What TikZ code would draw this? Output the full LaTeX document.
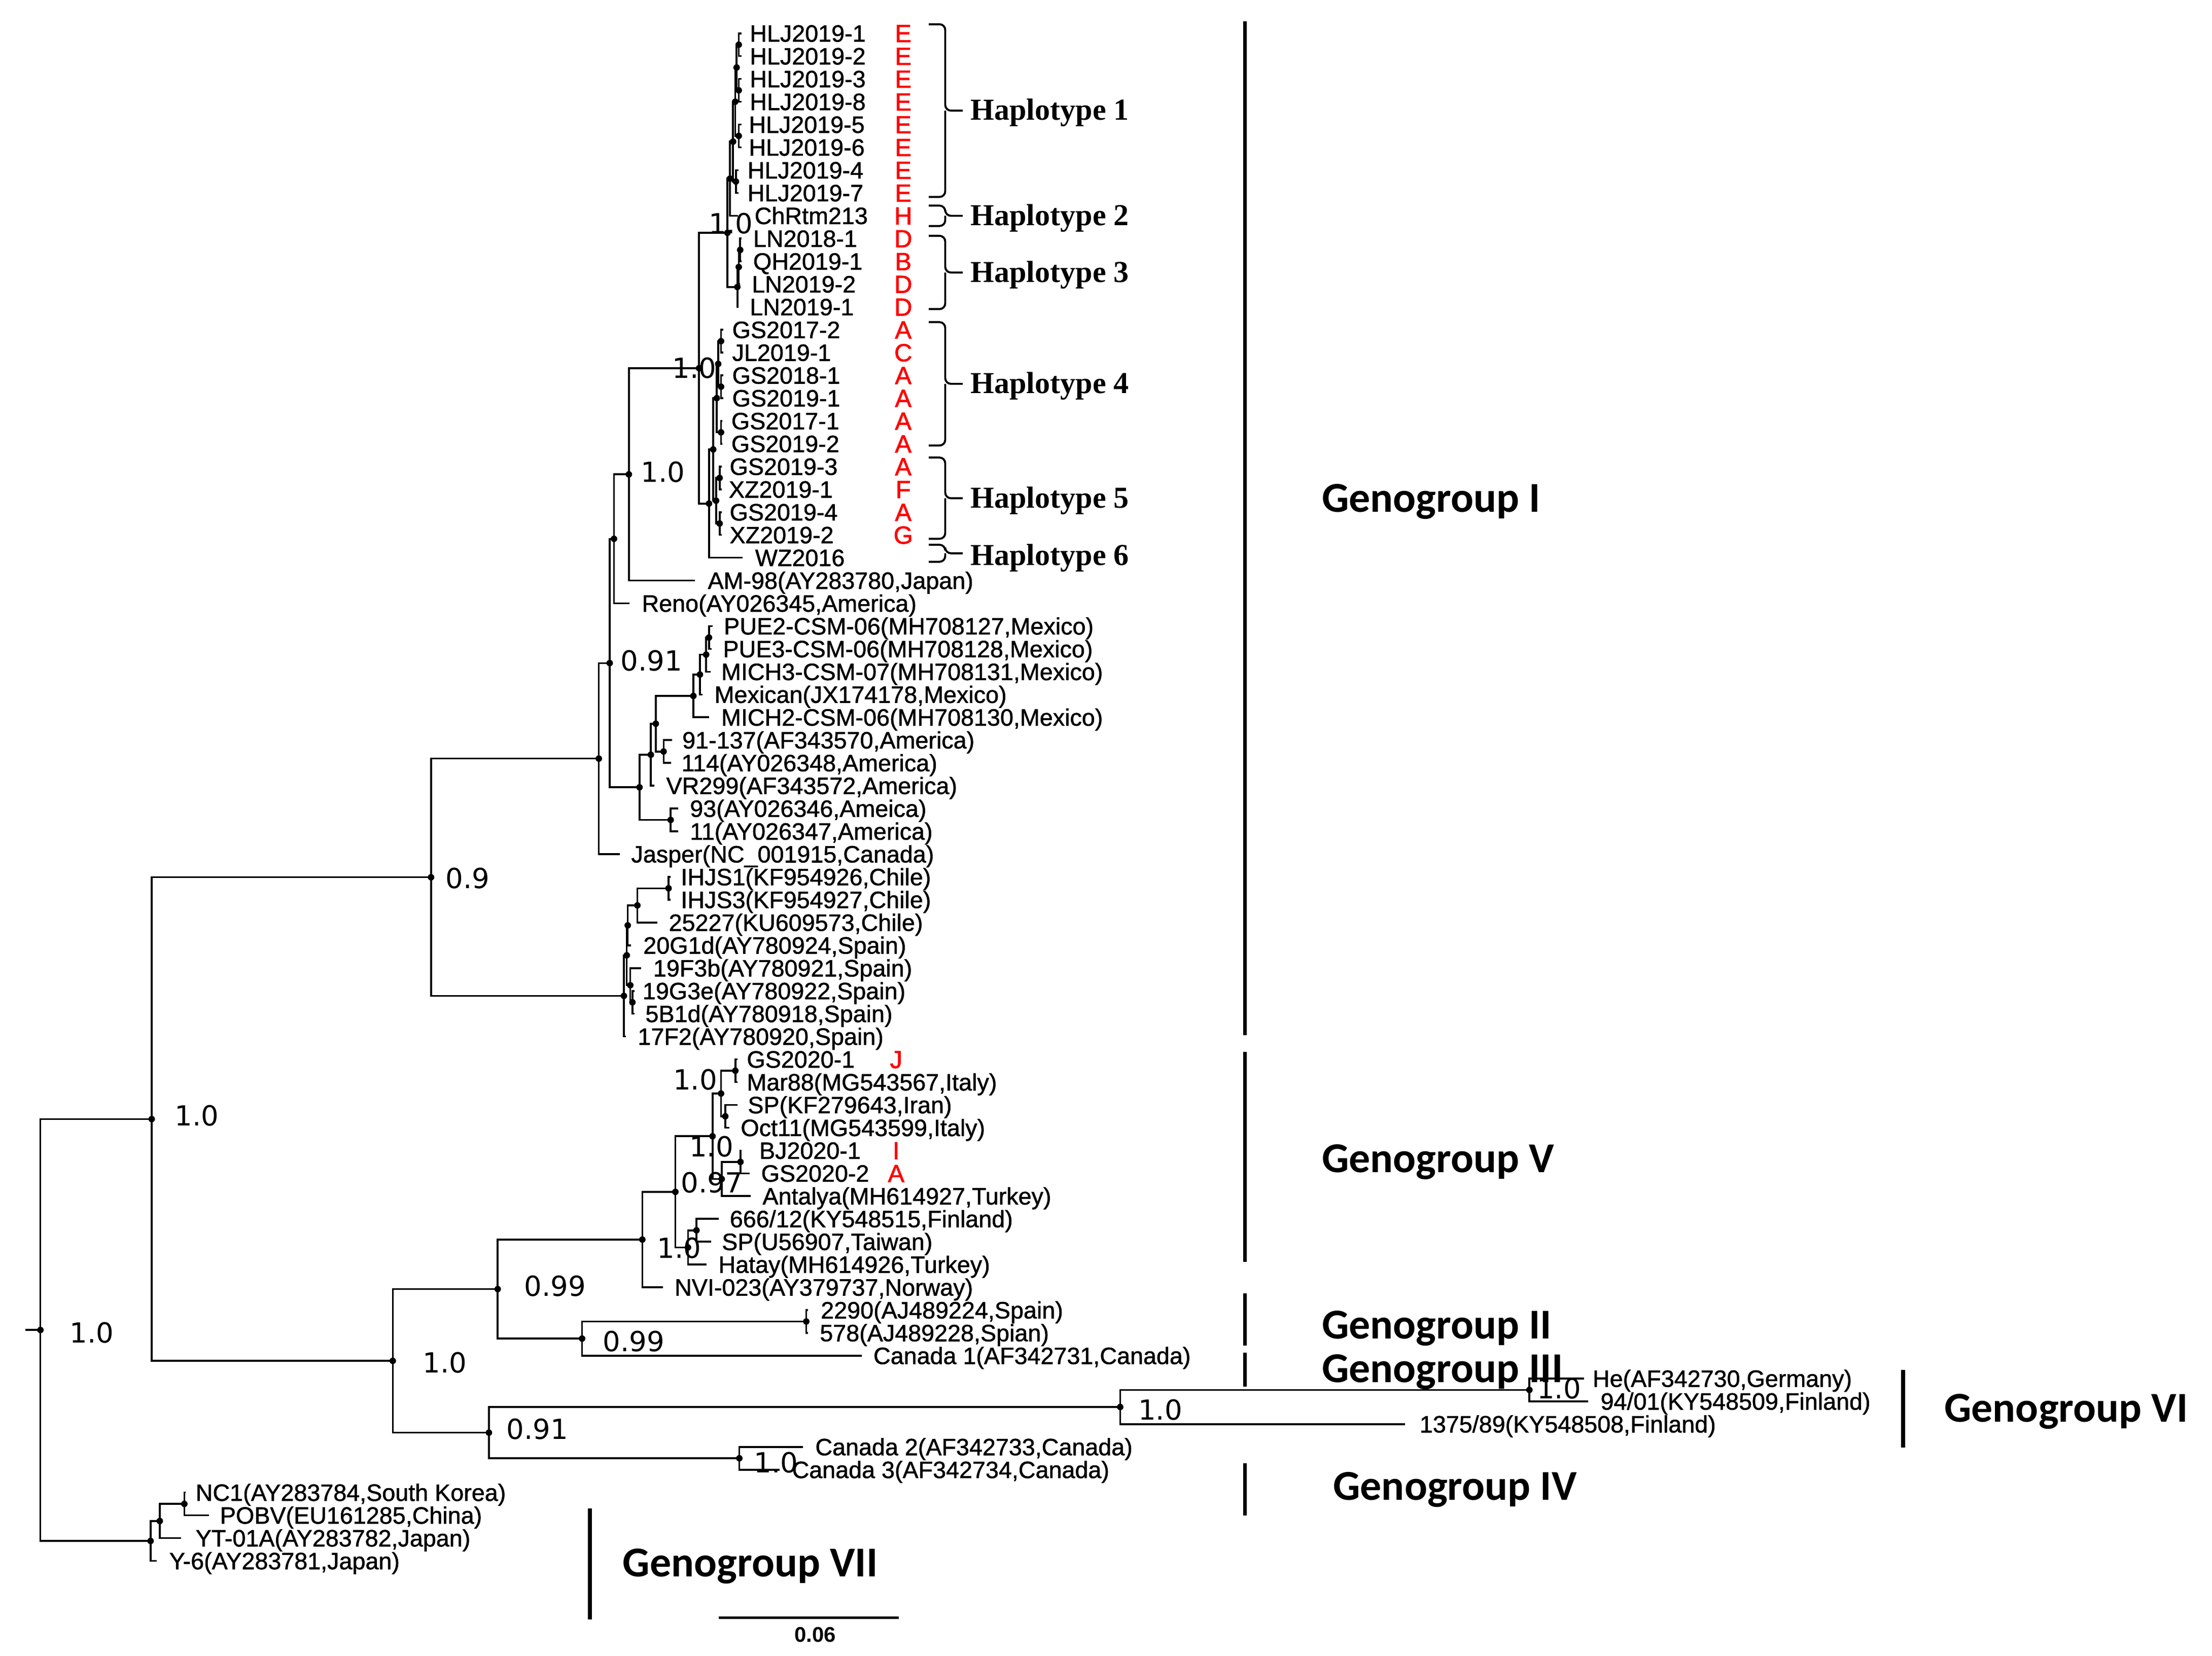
\documentclass[tikz,border=0pt]{standalone}
\usepackage{fontspec}
\usetikzlibrary{calc}
\newfontfamily\leaffont[FakeBold=1.2]{Liberation Sans}
\newfontfamily\redfont[FakeBold=1.6]{Liberation Sans}
\newfontfamily\scalefont{Liberation Sans}
\newfontfamily\supfont{DejaVu Sans}
\newfontfamily\hapfont{Liberation Serif}
\newfontfamily\genofont{Carlito}
\newcommand\LY[1]{(23.5+16.08*(#1-1))}
\tikzset{
  br/.style={line width=1.3pt},
  dotn/.style={fill=black},
  leaflab/.style={anchor=base west, inner sep=0pt, font=\leaffont\fontsize{16.7}{16.7}\selectfont},
  redlab/.style={anchor=base, inner sep=0pt, text=red, font=\redfont\fontsize{17.5}{17.5}\selectfont},
  sup/.style={anchor=west, inner sep=0pt, font=\supfont\fontsize{19.5}{19.5}\selectfont},
  haplab/.style={anchor=base west, inner sep=0pt, font=\hapfont\bfseries\fontsize{21.5}{21.5}\selectfont},
  genolab/.style={anchor=base west, inner sep=0pt, font=\genofont\bfseries\fontsize{30}{30}\selectfont},
  gbar/.style={line width=2.8pt},
  brace/.style={line width=1.4pt, rounded corners=4pt},
}
\newcommand\leaf[5]{%
  \coordinate (#1) at (#3,{\LY{#2}});
  \node[leaflab] (#1t) at (#4,{\LY{#2}+5.9}) {#5};}
\newcommand\redl[4]{\node[redlab] (#1) at (#3,{\LY{#2}+6.2}) {#4};}
\newcommand\inode[4]{%
  \path let \p1=(#3), \p2=(#4) in (#2pt,{0.5*(\y1+\y2)}) coordinate (#1);
  \draw[br] (#1) |- (#3);
  \draw[br] (#1) |- (#4);
  \fill[dotn] (#1) circle[radius=2.3pt];}
\newcommand\hbrace[4]{%
  \coordinate (#1a) at (655,#2);
  \coordinate (#1b) at (655,#3);
  \coordinate (#1m) at (666.6,#4);
  \coordinate (#1t) at (679,#4);
  \draw[brace] (#1a) -| (#1m) -- (#1t);
  \draw[brace] (#1b) -| (#1m);}
\begin{document}
\begin{tikzpicture}[x=1pt,y=-1pt]
\fill[white] (0,0) rectangle (1560,1167.6);
\useasboundingbox (0,0) rectangle (1560,1167.6);
% leaves
\leaf{l1}{1}{523}{528.6}{HLJ2019-1}
\leaf{l2}{2}{523}{528.6}{HLJ2019-2}
\leaf{l3}{3}{523}{528.6}{HLJ2019-3}
\leaf{l4}{4}{523}{528.6}{HLJ2019-8}
\leaf{l5}{5}{523}{527.9}{HLJ2019-5}
\leaf{l6}{6}{523}{527.9}{HLJ2019-6}
\leaf{l7}{7}{521}{527}{HLJ2019-4}
\leaf{l8}{8}{521}{527}{HLJ2019-7}
\leaf{l9}{9}{520.5}{532}{ChRtm213}
\leaf{l10}{10}{523}{531}{LN2018-1}
\leaf{l11}{11}{523}{531}{QH2019-1}
\leaf{l12}{12}{522}{530}{LN2019-2}
\leaf{l13}{13}{521}{528.6}{LN2019-1}
\leaf{l14}{14}{510}{516.2}{GS2017-2}
\leaf{l15}{15}{510}{516.2}{JL2019-1}
\leaf{l16}{16}{510}{516.2}{GS2018-1}
\leaf{l17}{17}{510}{516.2}{GS2019-1}
\leaf{l18}{18}{509.5}{515.6}{GS2017-1}
\leaf{l19}{19}{509.5}{515.6}{GS2019-2}
\leaf{l20}{20}{509}{514.4}{GS2019-3}
\leaf{l21}{21}{509}{513.8}{XZ2019-1}
\leaf{l22}{22}{509}{514.4}{GS2019-4}
\leaf{l23}{23}{509}{514.4}{XZ2019-2}
\leaf{l24}{24}{523.6}{532.4}{WZ2016}
\leaf{l25}{25}{490}{499}{AM-98(AY283780,Japan)}
\leaf{l26}{26}{444}{452.5}{Reno(AY026345,America)}
\leaf{l27}{27}{502.5}{510.3}{PUE2-CSM-06(MH708127,Mexico)}
\leaf{l28}{28}{502}{509.7}{PUE3-CSM-06(MH708128,Mexico)}
\leaf{l29}{29}{501}{508.5}{MICH3-CSM-07(MH708131,Mexico)}
\leaf{l30}{30}{495.4}{503.7}{Mexican(JX174178,Mexico)}
\leaf{l31}{31}{500.1}{508.5}{MICH2-CSM-06(MH708130,Mexico)}
\leaf{l32}{32}{473.9}{481}{91-137(AF343570,America)}
\leaf{l33}{33}{473.3}{480.4}{114(AY026348,America)}
\leaf{l34}{34}{461.4}{469.7}{VR299(AF343572,America)}
\leaf{l35}{35}{478.3}{486.4}{93(AY026346,Ameica)}
\leaf{l36}{36}{478.3}{486.4}{11(AY026347,America)}
\leaf{l37}{37}{437}{445}{Jasper(NC\_001915,Canada)}
\leaf{l38}{38}{473}{480}{IHJS1(KF954926,Chile)}
\leaf{l39}{39}{473}{480}{IHJS3(KF954927,Chile)}
\leaf{l40}{40}{463.5}{471.5}{25227(KU609573,Chile)}
\leaf{l41}{41}{445}{453.5}{20G1d(AY780924,Spain)}
\leaf{l42}{42}{452.3}{460.5}{19F3b(AY780921,Spain)}
\leaf{l43}{43}{447.5}{453}{19G3e(AY780922,Spain)}
\leaf{l44}{44}{447.5}{455}{5B1d(AY780918,Spain)}
\leaf{l45}{45}{441.5}{449.6}{17F2(AY780920,Spain)}
\leaf{l46}{46}{520}{526.5}{GS2020-1}
\leaf{l47}{47}{520}{526.5}{Mar88(MG543567,Italy)}
\leaf{l48}{48}{520}{527.2}{SP(KF279643,Iran)}
\leaf{l49}{49}{514.5}{522.2}{Oct11(MG543599,Italy)}
\leaf{l50}{50}{523.1}{535.3}{BJ2020-1}
\leaf{l51}{51}{528.7}{536.6}{GS2020-2}
\leaf{l52}{52}{529.4}{537.6}{Antalya(MH614927,Turkey)}
\leaf{l53}{53}{506.8}{514.5}{666/12(KY548515,Finland)}
\leaf{l54}{54}{501.4}{508.9}{SP(U56907,Taiwan)}
\leaf{l55}{55}{498.4}{506.5}{Hatay(MH614926,Turkey)}
\leaf{l56}{56}{467.4}{475.6}{NVI-023(AY379737,Norway)}
\leaf{l57}{57}{570}{578.7}{2290(AJ489224,Spain)}
\leaf{l58}{58}{570}{578}{578(AJ489228,Spian)}
\leaf{l59}{59}{607.6}{615.8}{Canada 1(AF342731,Canada)}
\leaf{l60}{60}{1117.3}{1123}{He(AF342730,Germany)}
\leaf{l61}{61}{1120}{1128.6}{94/01(KY548509,Finland)}
\leaf{l62}{62}{990.9}{1001}{1375/89(KY548508,Finland)}
\leaf{l63}{63}{566.4}{574.8}{Canada 2(AF342733,Canada)}
\leaf{l64}{64}{549.9}{558.4}{Canada 3(AF342734,Canada)}
\leaf{l65}{65}{131}{137.8}{NC1(AY283784,South Korea)}
\leaf{l66}{66}{147.3}{155}{POBV(EU161285,China)}
\leaf{l67}{67}{127.8}{137.8}{YT-01A(AY283782,Japan)}
\leaf{l68}{68}{110.5}{119.2}{Y-6(AY283781,Japan)}
% red letters
\redl{r1}{1}{637}{E}
\redl{r2}{2}{637}{E}
\redl{r3}{3}{637}{E}
\redl{r4}{4}{637}{E}
\redl{r5}{5}{637}{E}
\redl{r6}{6}{637}{E}
\redl{r7}{7}{637}{E}
\redl{r8}{8}{637}{E}
\redl{r9}{9}{637}{H}
\redl{r10}{10}{637}{D}
\redl{r11}{11}{637}{B}
\redl{r12}{12}{637}{D}
\redl{r13}{13}{637}{D}
\redl{r14}{14}{637}{A}
\redl{r15}{15}{637}{C}
\redl{r16}{16}{637}{A}
\redl{r17}{17}{637}{A}
\redl{r18}{18}{637}{A}
\redl{r19}{19}{637}{A}
\redl{r20}{20}{637}{A}
\redl{r21}{21}{637}{F}
\redl{r22}{22}{637}{A}
\redl{r23}{23}{637}{G}
\redl{r46}{46}{632}{J}
\redl{r50}{50}{632}{I}
\redl{r51}{51}{632}{A}
% internal nodes
\inode{a1}{521}{l1}{l2}
\inode{a2}{521}{l3}{l4}
\inode{a3}{519.5}{a1}{a2}
\inode{a4}{521}{l5}{l6}
\inode{a5}{518.5}{a3}{a4}
\inode{a7}{519}{l7}{l8}
\inode{R}{517}{a5}{a7}
\inode{Pp}{514.8}{R}{l9}
\inode{b1}{522}{l10}{l11}
\inode{b2}{521}{b1}{l12}
\inode{Q}{520}{b2}{l13}
\inode{O}{513}{Pp}{Q}
\inode{c1}{508.5}{l14}{l15}
\inode{Yn}{508.5}{l16}{l17}
\inode{X}{506.5}{c1}{Yn}
\inode{c4}{508.5}{l18}{l19}
\inode{V}{505.5}{X}{c4}
\inode{d1}{507.5}{l20}{l21}
\inode{d2}{507.5}{l22}{l23}
\inode{W}{505}{d1}{d2}
\inode{U}{503}{V}{W}
\inode{T}{500}{U}{l24}
\inode{F}{493}{O}{T}
\inode{E}{443.5}{F}{l25}
\inode{C}{433}{E}{l26}
\inode{N}{500}{l27}{l28}
\inode{M}{498}{N}{l29}
\inode{L}{493.6}{M}{l30}
\inode{K}{489}{L}{l31}
\inode{J}{468}{l32}{l33}
\inode{I}{462.5}{K}{J}
\inode{G}{459}{I}{l34}
\inode{H}{473}{l35}{l36}
\inode{D}{451}{G}{H}
\inode{B}{430}{C}{D}
\inode{A}{422.3}{B}{l37}
\inode{e1}{471.5}{l38}{l39}
\inode{e2}{449.5}{e1}{l40}
\inode{e3}{442.7}{e2}{l41}
\inode{e6}{446}{l43}{l44}
\inode{e5}{444.5}{l42}{e6}
\inode{e4}{442}{e3}{e5}
\inode{Z}{440}{e4}{l45}
\inode{N09}{304}{A}{Z}
\inode{f5}{518.6}{l46}{l47}
\inode{f6}{511.5}{l48}{l49}
\inode{f3}{508.5}{f5}{f6}
\inode{f7}{522.2}{l50}{l51}
\inode{f4}{509}{f7}{l52}
\inode{f2}{502.5}{f3}{f4}
\inode{f8}{491.2}{l53}{l54}
\inode{fb}{485.2}{f8}{l55}
\inode{f1}{476.3}{f2}{fb}
\inode{GV}{453}{f1}{l56}
\inode{n2290}{568.6}{l57}{l58}
\inode{n099b}{410.5}{n2290}{l59}
\inode{n099a}{351}{GV}{n099b}
\inode{nVIa}{1078.6}{l60}{l61}
\inode{nVI}{790}{nVIa}{l62}
\inode{nIV}{521.4}{l63}{l64}
\inode{n091}{344.8}{nVI}{nIV}
\inode{n10b}{277}{n099a}{n091}
\inode{n10a}{107}{N09}{n10b}
\inode{g2}{130}{l65}{l66}
\inode{g1}{112.7}{g2}{l67}
\inode{nVII}{106.2}{g1}{l68}
\inode{root}{28.5}{n10a}{nVII}
\path let \p1=(root) in (17.8pt,\y1) coordinate (rs);
\draw[br] (rs) -- (root);
% support values
\node[sup] (sroot) at (49,940) {1.0};
\node[sup] (sn10a) at (123,787) {1.0};
\node[sup] (sN09) at (314,619.5) {0.9};
\node[sup] (sn10b) at (298,961) {1.0};
\node[sup] (sn099a) at (369.5,907) {0.99};
\node[sup] (sn099b) at (425,946) {0.99};
\node[sup] (sn091) at (357,1008) {0.91};
\node[sup] (snVI) at (802.6,994.3) {1.0};
\node[sup] (snVIa) at (1083.7,979.4) {1.0};
\node[sup] (snIV) at (531.5,1031.5) {1.0};
\node[sup] (sE) at (451.8,333) {1.0};
\node[sup] (sF) at (474,259.5) {1.0};
\node[sup] (sB) at (437.5,466) {0.91};
\node[sup] (sO) at (499.7,157.5) {1.0};
\node[sup] (sf3) at (474.5,761.5) {1.0};
\node[sup] (sf2) at (486,808.5) {1.0};
\node[sup] (sf4) at (480,834) {0.97};
\node[sup] (sfb) at (463.2,880.3) {1.0};
% haplotype braces
\hbrace{h1}{17.1}{138.9}{78}
\hbrace{h2}{145}{159.4}{152.2}
\hbrace{h3}{166.3}{218}{192.2}
\hbrace{h4}{227.2}{314.2}{270.7}
\hbrace{h5}{322.7}{380}{351.4}
\hbrace{h6}{384.2}{396.2}{390.2}
\node[haplab] (ht1) at (684.3,84.5) {Haplotype 1};
\node[haplab] (ht2) at (684.3,159) {Haplotype 2};
\node[haplab] (ht3) at (684.3,199) {Haplotype 3};
\node[haplab] (ht4) at (684.3,277.5) {Haplotype 4};
\node[haplab] (ht5) at (684.3,358.2) {Haplotype 5};
\node[haplab] (ht6) at (684.3,398.5) {Haplotype 6};
% genogroup bars and labels
\draw[gbar] (878,15) -- (878,730);
\draw[gbar] (878,742) -- (878,890);
\draw[gbar] (878,912) -- (878,949);
\draw[gbar] (878,954) -- (878,978);
\draw[gbar] (878,1032) -- (878,1069);
\draw[gbar] (1342,966) -- (1342,1021);
\draw[gbar] (416,1064) -- (416,1142);
\node[genolab] (g1t) at (932,361) {Genogroup I};
\node[genolab] (g5t) at (932,827) {Genogroup V};
\node[genolab] (g2t) at (932,944) {Genogroup II};
\node[genolab] (g3t) at (932,975) {Genogroup III};
\node[genolab] (g4t) at (940,1058) {Genogroup IV};
\node[genolab] (g6t) at (1371,1003) {Genogroup VI};
\node[genolab] (g7t) at (439,1112) {Genogroup VII};
% scale bar
\coordinate (sb1) at (507,1141);
\coordinate (sb2) at (634,1141);
\draw[line width=1.8pt] (sb1) -- (sb2);
\node[inner sep=0pt, anchor=base, font=\scalefont\bfseries\fontsize{15}{15}\selectfont] (sbl) at (575,1158) {0.06};
\end{tikzpicture}
\end{document}
